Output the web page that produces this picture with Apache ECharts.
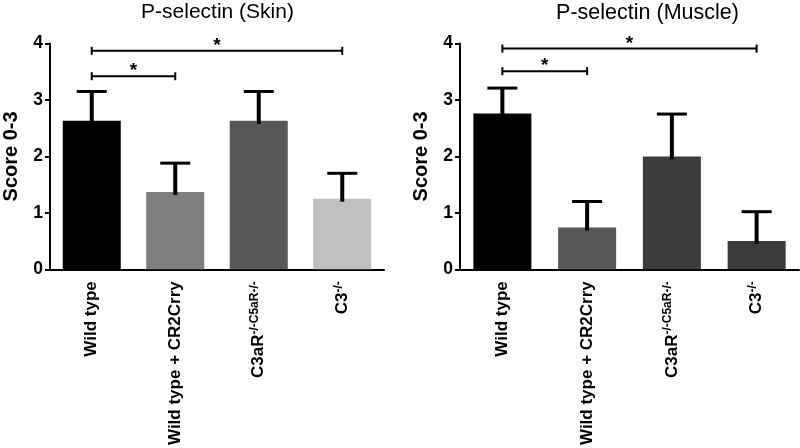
<!DOCTYPE html>
<html>
<head>
<meta charset="utf-8">
<script src="https://cdn.jsdelivr.net/npm/echarts@6/dist/echarts.min.js"></script>
<style>html,body{margin:0;padding:0;background:#fff}#c{width:800px;height:448px}</style>
</head>
<body>
<div id="c"></div>
<script>
// Categories ("^" marks the start of superscript text)
const categories = ['Wild type', 'Wild type + CR2Crry', 'C3aR^-/-C5aR-/-', 'C3^-/-'];
const yTicks = [0, 1, 2, 3, 4];

// Skin panel
const skinTitle = 'P-selectin (Skin)';
const skinMean = [2.63, 1.37, 2.63, 1.25];
const skinErrTop = [3.15, 1.88, 3.15, 1.70];
const skinColors = ['#000000', '#7f7f7f', '#585858', '#c0c0c0'];
const skinBrackets = [[0, 1, 3.42], [0, 3, 3.87]];

// Muscle panel
const muscleTitle = 'P-selectin (Muscle)';
const muscleMean = [2.76, 0.74, 2.00, 0.50];
const muscleErrTop = [3.21, 1.20, 2.75, 1.02];
const muscleColors = ['#000000', '#585858', '#3c3c3c', '#3c3c3c'];
const muscleBrackets = [[0, 1, 3.51], [0, 3, 3.91]];

const yName = 'Score 0-3';
const FONT = 'Liberation Sans, Arial, Helvetica, sans-serif';

function fmtCat(v) {
  const p = v.split('^');
  return p.length > 1 ? '{m|' + p[0] + '}{s|' + p[1] + '}' : '{m|' + p[0] + '}';
}

function xAxis(gi) {
  return {
    type: 'category', gridIndex: gi, data: categories,
    axisLine: { lineStyle: { color: '#000', width: 2 } },
    axisTick: { alignWithLabel: true, length: 6, lineStyle: { color: '#000', width: 2 } },
    axisLabel: {
      rotate: 90, margin: 12, interval: 0, formatter: fmtCat,
      rich: {
        m: { fontFamily: FONT, fontWeight: 'bold', fontSize: 17, color: '#000', lineHeight: 20 },
        s: { fontFamily: FONT, fontWeight: 'bold', fontSize: 12, color: '#000', lineHeight: 12, verticalAlign: 'top' }
      }
    }
  };
}
function yAxis(gi) {
  return {
    type: 'value', gridIndex: gi, min: yTicks[0], max: yTicks[yTicks.length - 1], interval: 1,
    name: yName, nameLocation: 'middle', nameGap: 29,
    nameTextStyle: { fontFamily: FONT, fontWeight: 'bold', fontSize: 20, color: '#000' },
    splitLine: { show: false },
    axisLine: { show: true, lineStyle: { color: '#000', width: 2 } },
    axisTick: { show: true, length: 5, lineStyle: { color: '#000', width: 2 } },
    axisLabel: { fontFamily: FONT, fontWeight: 'bold', fontSize: 17.5, color: '#000', margin: 7 }
  };
}
function barSeries(gi, means, colors) {
  return {
    type: 'bar', xAxisIndex: gi, yAxisIndex: gi, barWidth: 58, z: 2,
    data: means.map((v, i) => ({ value: v, itemStyle: { color: colors[i] } }))
  };
}
function errSeries(gi, means, tops) {
  return {
    type: 'custom', xAxisIndex: gi, yAxisIndex: gi, z: 3,
    data: means.map((m, i) => [i, m, tops[i]]),
    renderItem(params, api) {
      const top = api.coord([api.value(0), api.value(2)]);
      const mid = api.coord([api.value(0), api.value(1)]);
      return { type: 'group', children: [
        { type: 'line', shape: { x1: top[0], y1: top[1], x2: mid[0], y2: mid[1] + 3 }, style: { stroke: '#000', lineWidth: 4 } },
        { type: 'line', shape: { x1: top[0] - 15, y1: top[1], x2: top[0] + 15, y2: top[1] }, style: { stroke: '#000', lineWidth: 3 } }
      ]};
    }
  };
}
function bracketSeries(gi, brackets) {
  return {
    type: 'custom', xAxisIndex: gi, yAxisIndex: gi, z: 4,
    data: brackets,
    renderItem(params, api) {
      const a = api.coord([api.value(0), api.value(2)]);
      const b = api.coord([api.value(1), api.value(2)]);
      return { type: 'group', children: [
        { type: 'line', shape: { x1: a[0], y1: a[1], x2: b[0], y2: b[1] }, style: { stroke: '#000', lineWidth: 2 } },
        { type: 'line', shape: { x1: a[0], y1: a[1] - 4, x2: a[0], y2: a[1] + 4 }, style: { stroke: '#000', lineWidth: 2 } },
        { type: 'line', shape: { x1: b[0], y1: b[1] - 4, x2: b[0], y2: b[1] + 4 }, style: { stroke: '#000', lineWidth: 2 } },
        { type: 'text', style: { text: '*', x: (a[0] + b[0]) / 2, y: a[1] - 5, textAlign: 'center', textVerticalAlign: 'middle',
            font: 'bold 19px ' + FONT, fill: '#000' } }
      ]};
    }
  };
}

const chart = echarts.init(document.getElementById('c'), null, { renderer: 'canvas' });
chart.setOption({
  animation: false,
  backgroundColor: '#fff',
  title: [
    { text: skinTitle, left: 217.5, top: 2, padding: 0, textAlign: 'center', textStyle: { fontFamily: FONT, fontWeight: 'normal', fontSize: 21, color: '#000' } },
    { text: muscleTitle, left: 647.5, top: 2, padding: 0, textAlign: 'center', textStyle: { fontFamily: FONT, fontWeight: 'normal', fontSize: 21.5, color: '#000' } }
  ],
  grid: [
    { left: 44, right: 416, top: 43.5, bottom: 178 },
    { left: 460, right: 1, top: 43.5, bottom: 178 }
  ],
  xAxis: [xAxis(0), xAxis(1)],
  yAxis: [yAxis(0), yAxis(1)],
  series: [
    barSeries(0, skinMean, skinColors), errSeries(0, skinMean, skinErrTop), bracketSeries(0, skinBrackets),
    barSeries(1, muscleMean, muscleColors), errSeries(1, muscleMean, muscleErrTop), bracketSeries(1, muscleBrackets)
  ]
});
</script>
</body>
</html>
